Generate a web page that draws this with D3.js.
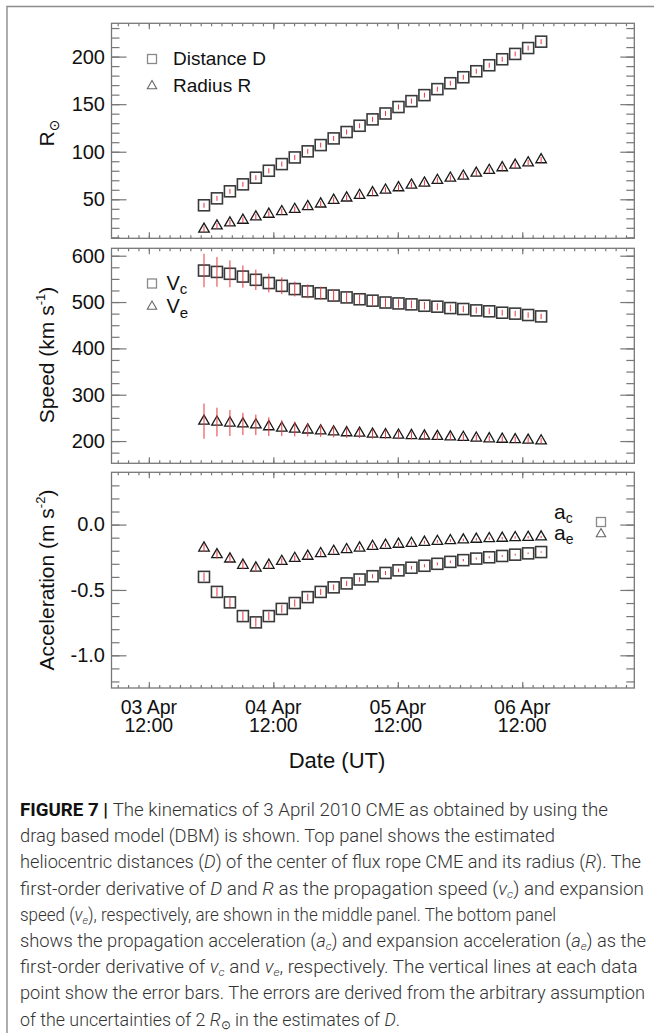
<!DOCTYPE html>
<html><head><meta charset="utf-8">
<script src="https://cdn.jsdelivr.net/npm/d3@7"></script>
<style>
body{margin:0;background:#fff}
svg{display:block}
text{font-family:"Liberation Sans",Arial,Helvetica,"DejaVu Sans",sans-serif}
</style>
</head><body><svg id="c" width="654" height="1033"></svg>
<script>
// ---------------- data ----------------
const times = ["2010-04-03T22:38Z","2010-04-04T01:08Z","2010-04-04T03:38Z","2010-04-04T06:08Z","2010-04-04T08:38Z",
  "2010-04-04T11:08Z","2010-04-04T13:38Z","2010-04-04T16:08Z","2010-04-04T18:38Z","2010-04-04T21:08Z",
  "2010-04-04T23:38Z","2010-04-05T02:08Z","2010-04-05T04:38Z","2010-04-05T07:08Z","2010-04-05T09:38Z",
  "2010-04-05T12:08Z","2010-04-05T14:38Z","2010-04-05T17:08Z","2010-04-05T19:38Z","2010-04-05T22:08Z",
  "2010-04-06T00:38Z","2010-04-06T03:08Z","2010-04-06T05:38Z","2010-04-06T08:08Z","2010-04-06T10:38Z",
  "2010-04-06T13:08Z","2010-04-06T15:38Z"];
const distanceD = [43.7,51.0,58.4,65.7,72.7,80.0,87.0,94.0,100.4,107.0,114.0,120.7,127.3,134.0,140.2,147.0,153.2,159.5,165.8,172.0,178.3,184.6,190.9,197.2,202.8,209.0,215.7];
const errD = [2.6,2.6,2.6,2.6,2.6,2.6,2.6,2.6,2.6,2.6,2.6,2.6,2.6,2.6,2.6,2.6,2.6,2.6,2.6,2.6,2.6,2.6,2.6,2.6,2.6,2.6,2.6];
const radiusR = [18.6,22.0,25.2,28.0,31.5,34.3,37.1,39.5,42.4,45.1,49.0,51.4,54.2,57.0,59.7,62.2,65.0,67.1,69.9,72.3,74.4,77.5,80.4,83.2,85.9,88.4,91.6];
const errR = [3,3,3,3,3,3,3,3,3,3,3,3,3,3,3,3,3,3,3,3,3,3,3,3,3,3,3];
const speedVc = [568,565,561,555,548,541,535,528,523,519,514,510,506,503,499,497,495,492,490,487,485,482,480,477,475,472,469];
const errVc = [36,32,29,24,22,20,18,16,15,14,12,11,11,10,9.5,9,8.5,8,7.5,7.2,7,6.8,6.5,6.3,6.1,6,5.8];
const speedVe = [243,241,239,237,235,231,228,226,224,222,220,218,217,215,214,213,212,211,210,209,208,206.5,205,204,203,202,200.5];
const errVe = [38,31,28,24,22,20,17,16,14,13,12,11,10.5,10,9.5,9,8.5,8,7.5,7.2,7,6.8,6.5,6.3,6.1,6,5.8];
const accAc = [-0.40,-0.515,-0.595,-0.70,-0.748,-0.70,-0.645,-0.60,-0.555,-0.515,-0.48,-0.45,-0.42,-0.395,-0.37,-0.35,-0.33,-0.315,-0.30,-0.285,-0.272,-0.26,-0.25,-0.24,-0.23,-0.22,-0.21];
const errAc = [0.032,0.034,0.036,0.036,0.034,0.032,0.03,0.028,0.026,0.024,0.022,0.02,0.018,0.016,0.015,0.014,0.013,0.012,0.011,0.01,0.009,0.008,0.008,0.007,0.007,0.006,0.006];
const accAe = [-0.179,-0.230,-0.263,-0.311,-0.332,-0.311,-0.281,-0.258,-0.242,-0.222,-0.204,-0.191,-0.179,-0.166,-0.158,-0.150,-0.143,-0.135,-0.128,-0.122,-0.117,-0.112,-0.107,-0.104,-0.099,-0.097,-0.094];
const errAe = [0.03,0.03,0.03,0.03,0.028,0.026,0.024,0.022,0.02,0.019,0.018,0.017,0.016,0.015,0.014,0.013,0.012,0.012,0.011,0.011,0.01,0.01,0.01,0.009,0.009,0.009,0.008];

const xDomain = ["2010-04-03T04:48Z","2010-04-07T09:36Z"];
const xMajorTicks = ["2010-04-03T12:00Z","2010-04-04T12:00Z","2010-04-05T12:00Z","2010-04-06T12:00Z"];
const xTickLabels = [["03 Apr","12:00"],["04 Apr","12:00"],["05 Apr","12:00"],["06 Apr","12:00"]];
const p1Ticks = [50,100,150,200];
const p2Ticks = [200,300,400,500,600];
const p3Ticks = [-1.0,-0.5,0.0];
const p3TickLabels = ["-1.0","-0.5","0.0"];
const p1Domain = [9,235], p2Domain = [152,616], p3Domain = [-1.25,0.4];

const captionLines = [
 [{t:"FIGURE 7 | ",b:1},{t:"The kinematics of 3 April 2010 CME as obtained by using the"}],
 [{t:"drag based model (DBM) is shown. Top panel shows the estimated"}],
 [{t:"heliocentric distances ("},{t:"D",i:1},{t:") of the center of flux rope CME and its radius ("},{t:"R",i:1},{t:"). The"}],
 [{t:"first-order derivative of "},{t:"D",i:1},{t:" and "},{t:"R",i:1},{t:" as the propagation speed ("},{t:"v",i:1},{t:"c",i:1,s:1},{t:") and expansion"}],
 [{t:"speed ("},{t:"v",i:1},{t:"e",i:1,s:1},{t:"), respectively, are shown in the middle panel. The bottom panel"}],
 [{t:"shows the propagation acceleration ("},{t:"a",i:1},{t:"c",i:1,s:1},{t:") and expansion acceleration ("},{t:"a",i:1},{t:"e",i:1,s:1},{t:") as the"}],
 [{t:"first-order derivative of "},{t:"v",i:1},{t:"c",i:1,s:1},{t:" and "},{t:"v",i:1},{t:"e",i:1,s:1},{t:", respectively. The vertical lines at each data"}],
 [{t:"point show the error bars. The errors are derived from the arbitrary assumption"}],
 [{t:"of the uncertainties of 2 "},{t:"R",i:1},{t:"\u2299",s:1},{t:" in the estimates of "},{t:"D",i:1},{t:"."}]
];

// ---------------- drawing ----------------
const svg = d3.select('#c');
svg.append('rect').attr('width',654).attr('height',1033).attr('fill','#fff');
svg.append('path').attr('d','M7,1033 V6.5 H654').attr('fill','none').attr('stroke','#8c8c8c').attr('stroke-width',1.4);

const L = 111.5, R = 634.3;
const x = d3.scaleUtc().domain(xDomain.map(s=>new Date(s))).range([L,R]);
const T = times.map(s=>new Date(s));
const minorX = d3.utcHour.every(2).range(new Date("2010-04-03T06:00Z"), new Date("2010-04-07T09:36Z"));
const majorX = xMajorTicks.map(s=>new Date(s));
const AX = '#777';
const FONT = '"Liberation Sans",Arial,Helvetica,sans-serif';

function drawPanel(top,bottom,domain,major,minorStep,fmt){
  const y = d3.scaleLinear().domain(domain).range([bottom,top]);
  const g = svg.append('g');
  const minorY = d3.range(Math.ceil(domain[0]/minorStep)*minorStep, domain[1], minorStep).map(v=>+v.toFixed(4));
  function ax(axis,tr){
    const s = g.append('g').attr('transform',tr).call(axis);
    s.select('.domain').remove();
    s.selectAll('line').attr('stroke',AX).attr('stroke-width',1.2);
    return s;
  }
  ax(d3.axisLeft(y).tickValues(minorY).tickSize(-8).tickFormat(''),`translate(${L},0)`);
  const yl = ax(d3.axisLeft(y).tickValues(major).tickSize(-15).tickPadding(6.5).tickFormat(fmt),`translate(${L},0)`);
  yl.attr('font-size',20).attr('font-family',FONT);
  yl.selectAll('text').attr('fill','#111');
  ax(d3.axisRight(y).tickValues(minorY).tickSize(-8).tickFormat(''),`translate(${R},0)`);
  ax(d3.axisRight(y).tickValues(major).tickSize(-14).tickFormat(''),`translate(${R},0)`);
  ax(d3.axisBottom(x).tickValues(minorX).tickSize(-3).tickFormat(''),`translate(0,${bottom})`);
  ax(d3.axisBottom(x).tickValues(majorX).tickSize(-6).tickFormat(''),`translate(0,${bottom})`);
  ax(d3.axisTop(x).tickValues(minorX).tickSize(-3).tickFormat(''),`translate(0,${top})`);
  ax(d3.axisTop(x).tickValues(majorX).tickSize(-6).tickFormat(''),`translate(0,${top})`);
  g.append('rect').attr('x',L).attr('y',top).attr('width',R-L).attr('height',bottom-top)
    .attr('fill','none').attr('stroke',AX).attr('stroke-width',1.3);
  return {g,y};
}

function squares(g,y,vals,errs){
  g.append('g').selectAll('rect').data(vals).join('rect')
    .attr('x',(d,i)=>x(T[i])-5.5).attr('y',d=>y(d)-5.5).attr('width',11).attr('height',11)
    .attr('fill','none').attr('stroke','#3a3a3a').attr('stroke-width',1.6);
  errbars(g,y,vals,errs);
}
const tri = d3.symbol(d3.symbolTriangle,48);
function triangles(g,y,vals,errs){
  g.append('g').selectAll('path').data(vals).join('path')
    .attr('d',tri).attr('transform',(d,i)=>`translate(${x(T[i])},${y(d)})`)
    .attr('fill','none').attr('stroke','#1a1a1a').attr('stroke-width',1.3);
  errbars(g,y,vals,errs);
}
function errbars(g,y,vals,errs){
  g.append('g').selectAll('line').data(vals).join('line')
    .attr('x1',(d,i)=>x(T[i])).attr('x2',(d,i)=>x(T[i]))
    .attr('y1',(d,i)=>y(d-errs[i])).attr('y2',(d,i)=>y(d+errs[i]))
    .attr('stroke','#e8373d').attr('stroke-width',1);
}

// Panel 1
const P1 = drawPanel(23.3,238.3,p1Domain,p1Ticks,10,d3.format('d'));
squares(P1.g,P1.y,distanceD,errD);
triangles(P1.g,P1.y,radiusR,errR);
// Panel 2
const P2 = drawPanel(248.3,463.3,p2Domain,p2Ticks,25,d3.format('d'));
squares(P2.g,P2.y,speedVc,errVc);
triangles(P2.g,P2.y,speedVe,errVe);
// Panel 3
const P3 = drawPanel(472.3,688,p3Domain,p3Ticks,0.1,(d,i)=>p3TickLabels[i]);
squares(P3.g,P3.y,accAc,errAc);
triangles(P3.g,P3.y,accAe,errAe);

// x tick labels
const xl = svg.append('g').attr('font-size',19.5).attr('fill','#111').attr('text-anchor','middle').attr('font-family',FONT);
majorX.forEach((d,i)=>{
  xl.append('text').attr('x',x(d)).attr('y',713.5).text(xTickLabels[i][0]);
  xl.append('text').attr('x',x(d)).attr('y',732).text(xTickLabels[i][1]);
});
svg.append('text').attr('x',337).attr('y',768).attr('text-anchor','middle').attr('font-size',22).attr('fill','#111').text('Date (UT)');

// y titles
function ytitle(cy,parts){
  const t = svg.append('text').attr('transform',`translate(54,${cy}) rotate(-90)`).attr('text-anchor','middle').attr('font-size',21).attr('fill','#111');
  parts.forEach(p=>{
    const s = t.append('tspan').text(p.t);
    if(p.sup){s.attr('font-size',13).attr('dy',-9);}
    if(p.sub){s.attr('font-size',14).attr('dy',5);}
    if(p.back) s.attr('dy',p.back);
  });
}
ytitle(133,[{t:'R'},{t:'\u2299',sub:1}]);
ytitle(355,[{t:'Speed (km s'},{t:'-1',sup:1},{t:')',back:9}]);
ytitle(580,[{t:'Acceleration (m s'},{t:'-2',sup:1},{t:')',back:9}]);

// legends
function legSq(cx,cy){svg.append('rect').attr('x',cx-4.5).attr('y',cy-4.5).attr('width',9).attr('height',9).attr('fill','none').attr('stroke','#8a8a8a').attr('stroke-width',1.3);}
function legTri(cx,cy){svg.append('path').attr('d',d3.symbol(d3.symbolTriangle,38)()).attr('transform',`translate(${cx},${cy})`).attr('fill','none').attr('stroke','#666').attr('stroke-width',1.1);}
legSq(152,59); legTri(152,86);
svg.append('text').attr('x',173).attr('y',64.5).attr('font-size',19).attr('fill','#111').text('Distance D');
svg.append('text').attr('x',173).attr('y',91.5).attr('font-size',19).attr('fill','#111').text('Radius R');

function subLabel(x0,y0,main,sub,fs,sfs,dy){
  const t = svg.append('text').attr('x',x0).attr('y',y0).attr('font-size',fs).attr('fill','#111').attr('font-family',FONT);
  t.append('tspan').text(main);
  t.append('tspan').attr('font-size',sfs).attr('dy',dy).text(sub);
}
legSq(152,283.5); legTri(152,306.5);
subLabel(166.5,289.5,'V','c',20,15,4);
subLabel(166.5,312.5,'V','e',20,15,5);

subLabel(554,519,'a','c',21,14,3.5);
subLabel(554,540,'a','e',21,14,3.5);
legSq(601,522); legTri(601,534);

// caption
const capRight = [608,555,641,644,556,646,637.5,645,400];
const cap = svg.append('g').attr('font-size',18).attr('fill','#333');
captionLines.forEach((line,k)=>{
  const t = cap.append('text').attr('x',20).attr('y',816+26.2*k)
    .attr('textLength',capRight[k]-20).attr('lengthAdjust','spacingAndGlyphs')
    .style('font-family','Roboto,"Liberation Sans",sans-serif').attr('font-weight',300);
  let shifted=false;
  line.forEach(seg=>{
    const s = t.append('tspan').text(seg.t);
    if(seg.b) s.attr('font-weight',700).attr('fill','#111');
    if(seg.i) s.attr('font-style','italic');
    if(seg.s){ s.attr('font-size',11.5).attr('dy',3); shifted=true; }
    else if(shifted){ s.attr('dy',-3); shifted=false; }
  });
});
</script>
</body></html>
